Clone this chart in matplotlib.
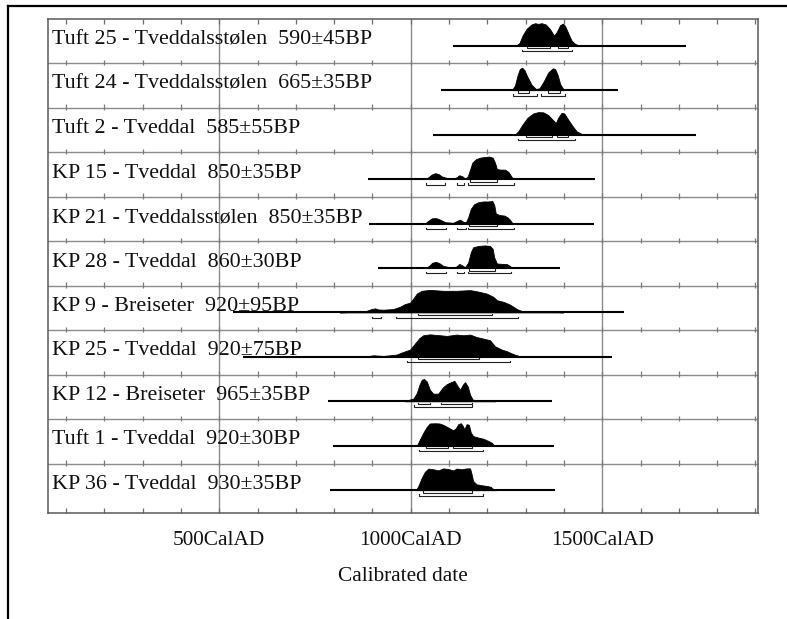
import matplotlib
matplotlib.use("Agg")
import matplotlib.pyplot as plt
from matplotlib.lines import Line2D
import numpy as np

# ---------------- data ----------------
labels = [
    "Tuft 25 - Tveddalsstølen  590±45BP",
    "Tuft 24 - Tveddalsstølen  665±35BP",
    "Tuft 2 - Tveddal  585±55BP",
    "KP 15 - Tveddal  850±35BP",
    "KP 21 - Tveddalsstølen  850±35BP",
    "KP 28 - Tveddal  860±30BP",
    "KP 9 - Breiseter  920±95BP",
    "KP 25 - Tveddal  920±75BP",
    "KP 12 - Breiseter  965±35BP",
    "Tuft 1 - Tveddal  920±30BP",
    "KP 36 - Tveddal  930±35BP",
]

# Tuft 25
t25_year = [1275, 1284, 1292, 1303, 1316, 1325, 1333, 1342, 1353, 1364, 1374, 1381, 1390, 1397, 1403, 1412, 1420, 1429, 1442]
t25_dens = [0, 0.12, 0.45, 0.76, 0.95, 1.0, 0.97, 1.0, 0.94, 0.73, 0.45, 0.60, 0.91, 0.98, 0.88, 0.53, 0.23, 0.08, 0]
t25_span = [1110, 1719]
t25_r68 = [(1304, 1365), (1385, 1412)]
t25_r95 = [(1290, 1420)]

# Tuft 24
t24_year = [1264, 1272, 1279, 1285, 1291, 1297, 1305, 1316, 1327, 1336, 1346, 1359, 1371, 1377, 1384, 1390, 1397, 1405]
t24_dens = [0, 0.20, 0.66, 0.94, 1.0, 0.89, 0.58, 0.23, 0.05, 0.08, 0.35, 0.78, 0.97, 0.94, 0.66, 0.28, 0.08, 0]
t24_span = [1079, 1540]
t24_r68 = [(1279, 1308), (1359, 1390)]
t24_r95 = [(1268, 1331), (1339, 1403)]

# Tuft 2
t2_year = [1272, 1281, 1292, 1305, 1320, 1333, 1346, 1359, 1370, 1379, 1385, 1394, 1401, 1411, 1423, 1433, 1446, 1455]
t2_dens = [0, 0.15, 0.45, 0.75, 0.94, 1.0, 0.99, 0.87, 0.67, 0.52, 0.75, 0.97, 0.94, 0.67, 0.37, 0.15, 0.03, 0]
t2_span = [1059, 1745]
t2_r68 = [(1300, 1370), (1381, 1412)]
t2_r95 = [(1279, 1429)]

# KP 15
kp15_year = [1037, 1046, 1055, 1063, 1072, 1081, 1094, 1111, 1120, 1127, 1135, 1142, 1149, 1155, 1161, 1170, 1181, 1194, 1205, 1214, 1220, 1225, 1233, 1246, 1255, 1264, 1272]
kp15_dens = [0, 0.08, 0.20, 0.26, 0.23, 0.12, 0.05, 0.02, 0.08, 0.17, 0.12, 0.02, 0.12, 0.42, 0.73, 0.88, 0.95, 0.98, 1.0, 0.95, 0.73, 0.45, 0.42, 0.42, 0.32, 0.08, 0]
kp15_span = [889, 1481]
kp15_r68 = [(1155, 1225)]
kp15_r95 = [(1039, 1090), (1120, 1139), (1150, 1270)]

# KP 21
kp21_year = [1037, 1046, 1055, 1066, 1077, 1090, 1111, 1120, 1129, 1137, 1144, 1150, 1157, 1165, 1177, 1190, 1203, 1213, 1218, 1222, 1231, 1245, 1253, 1259, 1266]
kp21_dens = [0, 0.12, 0.23, 0.24, 0.17, 0.06, 0.03, 0.11, 0.17, 0.08, 0.05, 0.27, 0.65, 0.85, 0.95, 0.98, 0.98, 1.0, 0.83, 0.45, 0.38, 0.35, 0.27, 0.17, 0]
kp21_span = [891, 1479]
kp21_r68 = [(1153, 1226)]
kp21_r95 = [(1039, 1091), (1120, 1144), (1150, 1271)]

# KP 28
kp28_year = [1039, 1048, 1056, 1066, 1075, 1085, 1103, 1118, 1127, 1134, 1142, 1150, 1157, 1163, 1177, 1194, 1207, 1214, 1218, 1225, 1238, 1251, 1259, 1265]
kp28_dens = [0, 0.09, 0.23, 0.27, 0.21, 0.09, 0.03, 0.05, 0.18, 0.12, 0.03, 0.24, 0.70, 0.92, 0.98, 1.0, 0.98, 0.85, 0.47, 0.20, 0.18, 0.17, 0.09, 0]
kp28_span = [915, 1390]
kp28_r68 = [(1153, 1220)]
kp28_r95 = [(1039, 1091), (1120, 1140), (1150, 1261)]

# KP 9
kp9_year = [815, 859, 885, 898, 907, 915, 929, 955, 972, 985, 998, 1007, 1016, 1029, 1050, 1085, 1120, 1155, 1172, 1198, 1216, 1225, 1242, 1259, 1277, 1290, 1329, 1372, 1398]
kp9_dens = [0, 0.03, 0.07, 0.15, 0.18, 0.13, 0.12, 0.15, 0.25, 0.37, 0.43, 0.62, 0.84, 0.96, 1.0, 0.96, 0.96, 0.99, 0.94, 0.84, 0.69, 0.54, 0.47, 0.35, 0.15, 0.06, 0.03, 0.03, 0]
kp9_span = [535, 1557]
kp9_r68 = [(1020, 1212)]
kp9_r95 = [(900, 922), (961, 1281)]

# KP 25
kp25_year = [876, 902, 929, 963, 981, 998, 1011, 1023, 1033, 1050, 1077, 1094, 1120, 1137, 1155, 1172, 1190, 1207, 1220, 1238, 1251, 1268, 1285, 1312]
kp25_dens = [0, 0.07, 0.04, 0.10, 0.22, 0.32, 0.59, 0.84, 0.96, 1.0, 0.96, 0.93, 0.99, 0.96, 0.99, 0.88, 0.81, 0.74, 0.47, 0.32, 0.25, 0.12, 0.03, 0]
kp25_span = [563, 1525]
kp25_r68 = [(1020, 1179)]
kp25_r95 = [(990, 1259)]

# KP 12
kp12_year = [985, 996, 1007, 1016, 1023, 1029, 1035, 1042, 1050, 1059, 1072, 1084, 1094, 1105, 1114, 1123, 1129, 1136, 1142, 1149, 1155, 1162, 1181, 1207, 1220]
kp12_dens = [0, 0.07, 0.12, 0.37, 0.74, 0.96, 0.99, 0.88, 0.51, 0.34, 0.34, 0.62, 0.76, 0.85, 0.91, 0.66, 0.51, 0.74, 0.85, 0.66, 0.29, 0.07, 0.04, 0.03, 0]
kp12_span = [785, 1370]
kp12_r68 = [(1020, 1050), (1080, 1159)]
kp12_r95 = [(1009, 1159)]

# Tuft 1
t1_year = [1016, 1024, 1033, 1042, 1050, 1063, 1075, 1085, 1098, 1111, 1118, 1124, 1131, 1136, 1140, 1146, 1152, 1157, 1163, 1177, 1190, 1203, 1212, 1218]
t1_dens = [0, 0.28, 0.58, 0.84, 0.99, 1.0, 0.99, 0.93, 0.81, 0.69, 0.78, 0.96, 1.0, 0.88, 0.73, 0.96, 0.93, 0.58, 0.43, 0.36, 0.31, 0.21, 0.13, 0]
t1_span = [798, 1374]
t1_r68 = [(1040, 1098), (1110, 1159)]
t1_r95 = [(1022, 1190)]

# KP 36
kp36_year = [1014, 1020, 1029, 1037, 1046, 1059, 1072, 1085, 1098, 1111, 1120, 1133, 1146, 1155, 1159, 1163, 1172, 1185, 1198, 1209, 1216, 1223]
kp36_dens = [0, 0.19, 0.56, 0.82, 0.96, 0.93, 0.88, 0.97, 0.94, 0.88, 0.96, 0.93, 0.97, 0.97, 0.71, 0.41, 0.26, 0.22, 0.19, 0.15, 0.04, 0]
kp36_span = [789, 1377]
kp36_r68 = [(1031, 1160)]
kp36_r95 = [(1022, 1190)]

years_list = [t25_year, t24_year, t2_year, kp15_year, kp21_year, kp28_year, kp9_year, kp25_year, kp12_year, t1_year, kp36_year]
dens_list = [t25_dens, t24_dens, t2_dens, kp15_dens, kp21_dens, kp28_dens, kp9_dens, kp25_dens, kp12_dens, t1_dens, kp36_dens]
span_list = [t25_span, t24_span, t2_span, kp15_span, kp21_span, kp28_span, kp9_span, kp25_span, kp12_span, t1_span, kp36_span]
r68_list = [t25_r68, t24_r68, t2_r68, kp15_r68, kp21_r68, kp28_r68, kp9_r68, kp25_r68, kp12_r68, t1_r68, kp36_r68]
r95_list = [t25_r95, t24_r95, t2_r95, kp15_r95, kp21_r95, kp28_r95, kp9_r95, kp25_r95, kp12_r95, t1_r95, kp36_r95]

major_ticks = [500, 1000, 1500]
major_labels = ["500CalAD", "1000CalAD", "1500CalAD"]
minor_ticks = list(range(100, 2000, 100))
x_label = "Calibrated date"

# ---------------- layout ----------------
W, H = 787, 619
fig = plt.figure(figsize=(W / 100, H / 100), dpi=100)
ax_l, ax_r, ax_t, ax_b = 48, 757.7, 19, 513.3
ax = fig.add_axes([ax_l / W, 1 - ax_b / H, (ax_r - ax_l) / W, (ax_b - ax_t) / H])

ROW_PX = 44.45
n = len(labels)
ymax = (ax_b - ax_t) / ROW_PX
ax.set_xlim(53, 1906)
ax.set_ylim(ymax, 0)

GRID = "#8c8c8c"
FONT = "Liberation Serif"

# frame
for s in ax.spines.values():
    s.set_color("#5a5a5a")
    s.set_linewidth(1.1)

# vertical gridlines
for m in major_ticks:
    ax.axvline(m, color=GRID, lw=1.0, zorder=1)
# row lines + small ticks
for k in range(1, n):
    ax.axhline(k, color=GRID, lw=1.0, zorder=1)
    ax.vlines(minor_ticks, k - 3.5 / ROW_PX, k + 2.0 / ROW_PX, color="#7a7a7a", lw=0.9, zorder=1)

base_off = 26.7 / ROW_PX
peak_h = 22.5 / ROW_PX
txt_off = 25.3 / ROW_PX
r68_off = 29.3 / ROW_PX
r95_off = 32.2 / ROW_PX
tick_up = 1.4 / ROW_PX


def bracket(x0, x1, y):
    ax.plot([x0, x0, x1, x1], [y - tick_up, y, y, y - tick_up], color="#202020", lw=0.8,
            solid_joinstyle="miter", zorder=3)


for i in range(n):
    top = i
    base = top + base_off
    ax.text(64, top + txt_off, labels[i], fontsize=15.8, family=FONT, ha="left", va="baseline",
            color="#111111", zorder=2)
    ax.plot(span_list[i], [base, base], color="black", lw=1.5, zorder=3, solid_capstyle="butt")
    yr = np.array(years_list[i], dtype=float)
    d = np.array(dens_list[i], dtype=float)
    ax.fill_between(yr, base, base - d * peak_h, color="black", lw=0.6, zorder=4)
    for a, b in r68_list[i]:
        bracket(a, b, top + r68_off)
    for a, b in r95_list[i]:
        bracket(a, b, top + r95_off)

ax.set_yticks([])
ax.set_xticks(major_ticks)
ax.set_xticklabels(major_labels, fontsize=15.3, family=FONT, color="#111111")
ax.set_xticks(minor_ticks, minor=True)
ax.tick_params(axis="x", which="both", direction="in", top=True, bottom=True,
               length=3.8, width=0.9, color="#6e6e6e", pad=12.5)
ax.set_xlabel(x_label, fontsize=15.3, family=FONT, labelpad=12.5, color="#111111")

# outer border (top and left lines)
fig.add_artist(Line2D([8 / W, 1], [1 - 6 / H, 1 - 6 / H], transform=fig.transFigure, color="black", lw=1.6))
fig.add_artist(Line2D([8 / W, 8 / W], [0, 1 - 6 / H], transform=fig.transFigure, color="black", lw=1.6))

fig.savefig("out.png", dpi=100)
